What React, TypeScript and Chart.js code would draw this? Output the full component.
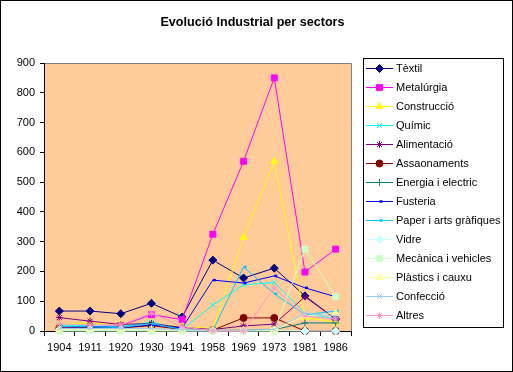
import React, { useEffect, useRef } from 'react';
import { Chart, registerables } from 'chart.js';
import { drawPoint } from 'chart.js/helpers';
Chart.register(...registerables);

const years = ['1904', '1911', '1920', '1930', '1941', '1958', '1969', '1973', '1981', '1986'];
const seriesNames = ['Tèxtil', 'Metalúrgia', 'Construcció', 'Químic', 'Alimentació', 'Assaonaments', 'Energia i electric', 'Fusteria', 'Paper i arts gràfiques', 'Vidre', 'Mecànica i vehicles', 'Plàstics i cauxu', 'Confecció', 'Altres'];
const textil = [67, 67, 58, 93, 47, 238, 178, 211, 118, 40];
const metalurgia = [10, 14, 18, 55, 38, 325, 570, 850, 198, 275];
const construccio = [22, 28, 22, 22, 15, 8, 315, 570, 45, 30];
const quimic = [20, 18, 15, 30, 5, 87, 155, 163, 60, 40];
const alimentacio = [45, 33, 22, 25, 12, 5, 17, 23, 115, 40];
const assaonaments = [10, 12, 10, 18, 5, 3, 44, 44, 0, 0];
const energia = [3, 3, 3, 3, 2, 2, 3, 5, 27, 27];
const fusteria = [15, 14, 12, 20, 10, 171, 161, 185, 145, 115];
const paper = [15, 14, 12, 25, 5, 2, 215, 125, 55, 67];
const vidre = [2, 2, 2, 2, 1, 1, 1, 1, 0, 0];
const mecanica = [0, 0, 0, 0, 0, 0, 0, 0, 275, 115];
const plastics = [5, 5, 5, 5, 3, 2, 2, 3, 50, 60];
const confeccio = [8, 8, 8, 8, 4, 2, 2, 5, 60, 50];
const altres = [25, 20, 20, 60, 15, 0, 0, 145, 50, 40];

const allData = [textil, metalurgia, construccio, quimic, alimentacio, assaonaments, energia, fusteria, paper, vidre, mecanica, plastics, confeccio, altres];
const colors = ['#000080', '#FF00FF', '#FFFF00', '#00FFFF', '#800080', '#800000', '#008080', '#0000FF', '#00CCFF', '#CCFFFF', '#CCFFCC', '#FFFF99', '#99CCFF', '#FF99CC'];
const styles = ['rectRot', 'rect', 'triangle', 'crossRot', 'star', 'circle', 'cross', 'dash', 'dash', 'rectRot', 'rect', 'triangle', 'crossRot', 'star'];
const radii = [4, 4.2, 4, 3.5, 3.5, 3.5, 3.5, 3, 3, 4, 4.2, 4, 3.5, 3.5];
const pbw = [1, 1, 1, 1, 1, 1, 1, 2.5, 2.5, 1, 1, 1, 1, 1];

const FONT = '"Liberation Sans", Arial, sans-serif';
const LEG_X = 363, LEG_Y = 58, LEG_W = 140, LEG_H = 269, LEG_ROW0 = 68, LEG_STEP = 19;

export default function App() {
  const ref = useRef<HTMLCanvasElement>(null);
  useEffect(() => {
    document.body.style.margin = '0';
    const bg = {
      id: 'bg',
      beforeDraw(chart: any) {
        const { ctx, chartArea: a } = chart;
        ctx.save();
        ctx.fillStyle = '#FFFFFF';
        ctx.fillRect(0, 0, chart.width, chart.height);
        ctx.fillStyle = '#FFCC99';
        ctx.fillRect(a.left, a.top, a.right - a.left, a.bottom - a.top);
        ctx.strokeStyle = '#808080';
        ctx.lineWidth = 1;
        ctx.beginPath();
        ctx.moveTo(a.left, a.top + 0.5);
        ctx.lineTo(a.right + 0.5, a.top + 0.5);
        ctx.lineTo(a.right + 0.5, a.bottom);
        ctx.stroke();
        ctx.restore();
      },
      afterDraw(chart: any) {
        const { ctx } = chart;
        ctx.save();
        ctx.strokeStyle = '#000';
        ctx.lineWidth = 1;
        ctx.strokeRect(LEG_X + 0.5, LEG_Y + 0.5, LEG_W, LEG_H);
        for (let i = 0; i < seriesNames.length; i++) {
          const y = LEG_ROW0 + i * LEG_STEP + 0.5;
          ctx.strokeStyle = colors[i];
          ctx.fillStyle = colors[i];
          ctx.lineWidth = 1;
          ctx.beginPath();
          ctx.moveTo(366, y);
          ctx.lineTo(393, y);
          ctx.stroke();
          ctx.lineWidth = pbw[i];
          drawPoint(ctx, {
            pointStyle: styles[i], radius: radii[i], rotation: 0, borderWidth: pbw[i],
          } as any, 379.5, y);
        }
        ctx.restore();
      },
    };
    const chart = new Chart(ref.current!, {
      type: 'line',
      data: {
        labels: years,
        datasets: allData.map((d, i) => ({
          label: seriesNames[i],
          data: d,
          order: allData.length - i,
          borderColor: colors[i],
          backgroundColor: colors[i],
          borderWidth: 1,
          pointStyle: styles[i] as any,
          pointRadius: radii[i],
          pointBorderWidth: pbw[i],
          pointBorderColor: colors[i],
          pointBackgroundColor: colors[i],
          tension: 0,
          clip: false as any,
        })),
      },
      options: {
        animation: false,
        responsive: false,
        layout: { padding: { left: 0, top: 63, right: 162, bottom: 0 } },
        plugins: { legend: { display: false }, title: { display: false }, tooltip: { enabled: false } },
        scales: {
          x: {
            offset: true,
            grid: { drawOnChartArea: false, color: '#000', tickLength: 5, offset: true },
            border: { color: '#000', width: 1 },
            ticks: { color: '#000', font: { family: FONT, size: 11 }, padding: 5, maxRotation: 0, autoSkip: false },
            afterFit: (s: any) => { s.height = 41; },
          },
          y: {
            min: 0, max: 900,
            grid: { drawOnChartArea: false, color: '#000', tickLength: 4 },
            border: { color: '#000', width: 1 },
            ticks: { stepSize: 100, color: '#000', font: { family: FONT, size: 11 }, padding: 5 },
            afterFit: (s: any) => { s.width = 44; },
          },
        },
      },
      plugins: [bg],
    });
    return () => chart.destroy();
  }, []);
  return (
    <div style={{ position: 'relative', width: 513, height: 372, fontFamily: FONT }}>
      <canvas ref={ref} width={513} height={372} style={{ position: 'absolute', left: 0, top: 0 }} />
      <div style={{ position: 'absolute', left: 0, top: 0, width: 511, height: 370, border: '1px solid #000' }} />
      <div style={{ position: 'absolute', left: 0, top: 14, width: 505, textAlign: 'center', fontWeight: 'bold', fontSize: 12.6, lineHeight: '16px', color: '#000' }}>
        Evolució Industrial per sectors
      </div>
      {seriesNames.map((n, i) => (
        <div key={n} style={{ position: 'absolute', left: 396, top: LEG_ROW0 + i * LEG_STEP - 7, fontSize: 11, lineHeight: '14px', color: '#000', whiteSpace: 'nowrap' }}>
          {n}
        </div>
      ))}
    </div>
  );
}
